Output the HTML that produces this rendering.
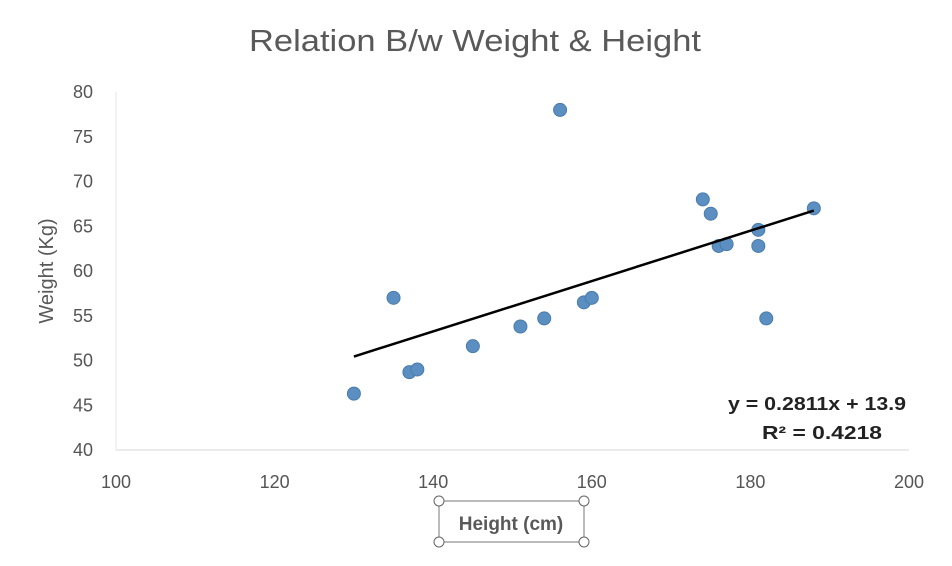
<!DOCTYPE html>
<html><head><meta charset="utf-8"><style>
body{margin:0;background:#fff;width:952px;height:566px;overflow:hidden}
svg{display:block;font-family:"Liberation Sans",sans-serif}
</style></head><body>
<svg id="chart" width="952" height="566">
<text x="475" y="51" text-anchor="middle" font-size="31" textLength="452" lengthAdjust="spacingAndGlyphs" fill="#595959">Relation B/w Weight &amp; Height</text>
<g id="axes"></g>
<g id="marks"></g>
<text x="906" y="410" text-anchor="end" font-size="18" textLength="178" lengthAdjust="spacingAndGlyphs" font-weight="bold" fill="#222">y = 0.2811x + 13.9</text>
<text x="882" y="439" text-anchor="end" font-size="18" textLength="120" lengthAdjust="spacingAndGlyphs" font-weight="bold" fill="#222">R² = 0.4218</text>
<g>
<rect x="439" y="501" width="145" height="41" fill="none" stroke="#777" stroke-width="1"/>
<circle cx="439" cy="501" r="5" fill="#fff" stroke="#666"/><circle cx="584" cy="501" r="5" fill="#fff" stroke="#666"/>
<circle cx="439" cy="542" r="5" fill="#fff" stroke="#666"/><circle cx="584" cy="542" r="5" fill="#fff" stroke="#666"/>
<text x="511" y="530" text-anchor="middle" font-size="19" font-weight="bold" fill="#595959">Height (cm)</text>
</g>
<text transform="translate(53,271) rotate(-90)" text-anchor="middle" font-size="20" fill="#595959">Weight (Kg)</text>
</svg>
<script>
const xTicks=[100,120,140,160,180,200];
const yTicks=[40,45,50,55,60,65,70,75,80];
const heights=[130,135,137,138,145,151,154,156,159,160,174,175,176,177,181,181,182,188];
const weights=[46.3,57,48.7,49,51.6,53.8,54.7,78,56.5,57,68,66.4,62.8,63,64.6,62.8,54.7,67];
const slope=0.2811, intercept=13.9;
const NS="http://www.w3.org/2000/svg";
const X=v=>116+(v-100)*(909-116)/100;
const Y=v=>450-(v-40)*(450-92)/40;
const axes=document.getElementById('axes'),marks=document.getElementById('marks');
function mk(t,a,p){const e=document.createElementNS(NS,t);for(const k in a)e.setAttribute(k,a[k]);p.appendChild(e);return e;}
let l=mk('line',{x1:X(100),y1:Y(40),x2:X(200),y2:Y(40),stroke:'#d9d9d9','stroke-width':1},axes);


l=mk('line',{x1:X(100),y1:Y(40),x2:X(100),y2:Y(80),stroke:'#e6e6e6','stroke-width':1},axes);


xTicks.forEach(v=>{const t=mk('text',{x:X(v),y:488,'text-anchor':'middle','font-size':18,fill:'#555'},axes);t.textContent=v;

});
yTicks.forEach(v=>{const t=mk('text',{x:93,y:Y(v)+6,'text-anchor':'end','font-size':18,fill:'#555'},axes);t.textContent=v;

});
heights.forEach((h,i)=>{const c=mk('circle',{cx:X(h),cy:Y(weights[i]),r:6.5,fill:'#5b8fc2',stroke:'#4a7bab','stroke-width':1},marks);

});
const x0=Math.min(...heights),x1=Math.max(...heights);
const tl=mk('line',{x1:X(x0),y1:Y(slope*x0+intercept),x2:X(x1),y2:Y(slope*x1+intercept),stroke:'#000','stroke-width':2.5},marks);


</script>
</body></html>
